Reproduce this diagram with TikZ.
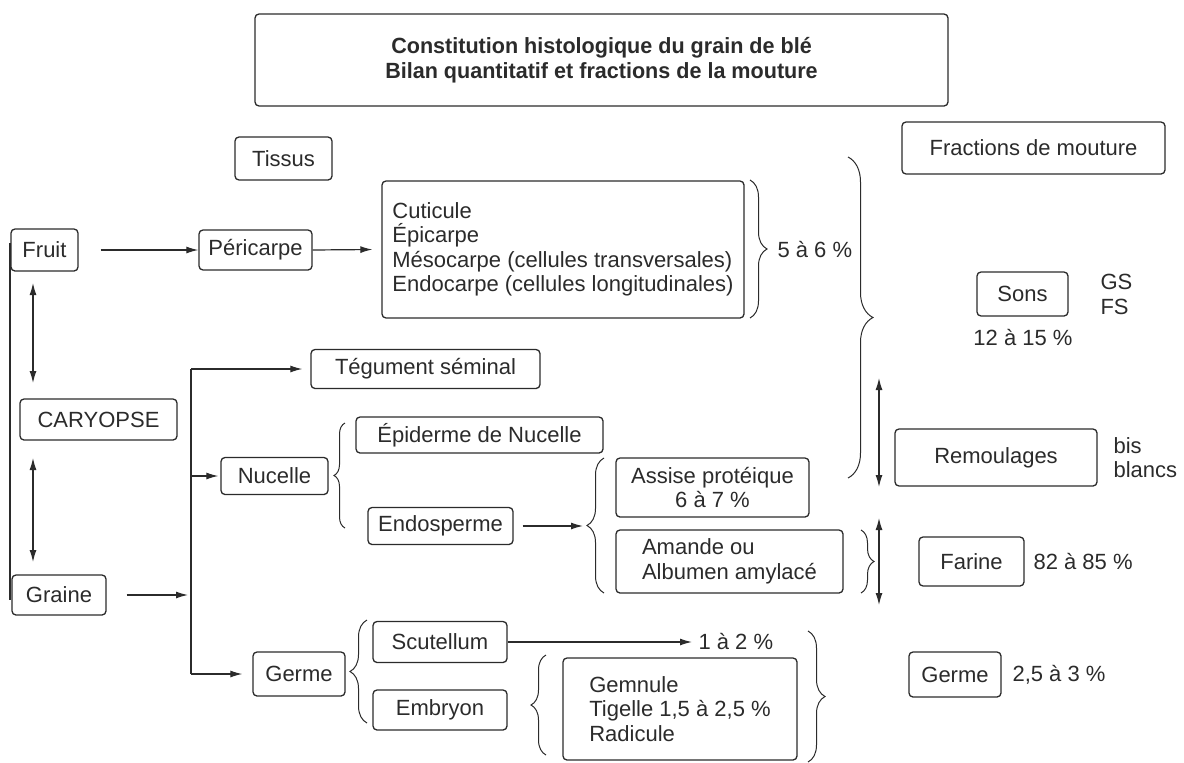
\documentclass[tikz,border=0pt]{standalone}
\usepackage{fontspec}
\setmainfont{Liberation Sans}
\newfontfamily\titrefont[FakeStretch=0.98]{Liberation Sans}
\usetikzlibrary{arrows.meta}
\usetikzlibrary{decorations.pathreplacing}
\definecolor{encre}{HTML}{2B2B2B}

\begin{document}
\begin{tikzpicture}[x=1pt,y=-1pt,
    every node/.style={text=encre,font=\fontsize{22}{24.5}\selectfont},
    boite/.style={draw=encre,line width=1.3pt,rounded corners=4pt,inner sep=0pt,align=center},
    fleche/.style={draw=encre,line width=1.2pt,-{Latex[length=12pt,width=7pt]}},
    dfleche/.style={draw=encre,line width=1.2pt,{Latex[length=12pt,width=7pt]}-{Latex[length=12pt,width=7pt]}},
    acc/.style={draw=encre,line width=1pt,decorate,decoration={brace,amplitude=#1}}]
        \useasboundingbox (0,0) rectangle (1184,763);

        % titre et en-tetes
        \node[boite,minimum width=693pt,minimum height=92pt,
            font=\titrefont\bfseries\fontsize{22}{25}\selectfont] (titre) at (601.5,60)
            {Constitution histologique du grain de blé\\Bilan quantitatif et fractions de la mouture};
        \node[boite,minimum width=97pt,minimum height=43pt] (tissus) at (283.5,158.5) {Tissus};
        \node[boite,minimum width=263pt,minimum height=52pt] (fract) at (1033.5,148) {Fractions de mouture};

        % colonne de gauche
        \node[boite,minimum width=67pt,minimum height=42pt] (fruit) at (44.5,250) {Fruit};
        \node[boite,minimum width=157pt,minimum height=41pt] (caryo) at (98.5,419.5) {CARYOPSE};
        \node[boite,minimum width=94pt,minimum height=40pt] (graine) at (59,595) {Graine};
        \coordinate (g1) at (10,243);
        \coordinate (g2) at (10,600);
        \draw[encre,line width=2.5pt] (g1) -- (g2);
        \coordinate (d1) at (33,283);
        \coordinate (d2) at (33,383);
        \coordinate (d3) at (33,458);
        \coordinate (d4) at (33,562);
        \draw[dfleche] (d1) -- (d2);
        \draw[dfleche] (d3) -- (d4);

        % tissus
        \node[boite,minimum width=113pt,minimum height=40pt] (peri) at (255.5,250) {Péricarpe};
        \node[boite,minimum width=362pt,minimum height=137pt,align=left] (cuti) at (563,249.5)
            {Cuticule\\Épicarpe\\Mésocarpe (cellules transversales)\\Endocarpe (cellules longitudinales)};
        \draw[fleche] ([xshift=22pt]fruit.east) -- (peri.west);
        \draw[fleche] (peri.east) -- ([xshift=-9pt]cuti.west);
        \draw[acc=17pt] (750,180) -- (750,318);
        \node[anchor=west] (p56) at (774,250) {5 à 6 \%};

        \node[boite,minimum width=229pt,minimum height=39pt] (tegu) at (425.5,369) {Tégument séminal};
        \node[boite,minimum width=107pt,minimum height=37pt] (nuc) at (274.5,476) {Nucelle};
        \node[boite,minimum width=247pt,minimum height=36pt] (epid) at (479.5,435) {Épiderme de Nucelle};
        \node[boite,minimum width=145pt,minimum height=37pt] (endo) at (440.5,526) {Endosperme};
        \node[boite,minimum width=193pt,minimum height=59pt] (assise) at (712.5,487.5) {Assise protéique\\6 à 7 \%};
        \node[boite,minimum width=227pt,minimum height=63pt,align=left] (amande) at (729.5,561.5)
            {Amande ou\\Albumen amylacé};
        \node[boite,minimum width=92pt,minimum height=44pt] (germe) at (299,674) {Germe};
        \node[boite,minimum width=134pt,minimum height=41pt] (scut) at (440,642) {Scutellum};
        \node[boite,minimum width=134pt,minimum height=40pt] (embr) at (440,710) {Embryon};
        \node[boite,minimum width=234pt,minimum height=102pt,align=left] (gemn) at (680,709)
            {Gemnule\\Tigelle 1,5 à 2,5 \%\\Radicule};
        \node[anchor=west] (p12) at (695,642) {1 à 2 \%};

        % embranchement de la graine
        \coordinate (haut) at (191,369);
        \coordinate (bas) at (191,674);
        \draw[encre,line width=1.2pt] (haut) -- (bas);
        \draw[fleche,shorten >=3pt] ([xshift=20pt]graine.east) -- (haut |- graine);
        \draw[fleche] (haut) -- ([xshift=-8pt]tegu.west);
        \draw[fleche] (haut |- nuc) -- ([xshift=-2pt]nuc.west);
        \draw[fleche] (bas) -- ([xshift=-10pt]germe.west);
        \coordinate (e1) at (583,526);
        \draw[fleche] ([xshift=9pt]endo.east) -- (e1);
        \draw[fleche] (scut.east) -- ([xshift=-3pt]p12.west);

        % accolades
        \draw[acc=11pt] (345,528) -- (345,423);
        \draw[acc=17pt] (604,593) -- (604,458);
        \draw[acc=13pt] (861,530) -- (861,593);
        \draw[acc=17pt] (367,723) -- (367,620);
        \draw[acc=15pt] (546,755) -- (546,655);
        \draw[acc=17pt] (808,631) -- (808,762);
        \draw[acc=25pt] (848,157) -- (848,478);

        % fractions de mouture
        \node[boite,minimum width=91pt,minimum height=44pt] (sons) at (1022.5,294) {Sons};
        \node[anchor=west,align=left] (gsfs) at (1097,294.5) {GS\\FS};
        \node (p1215) at (1023,338) {12 à 15 \%};
        \node[boite,minimum width=202pt,minimum height=57pt] (remoul) at (996,457.5) {Remoulages};
        \node[anchor=west,align=left] (bisbl) at (1110,457.5) {bis\\blancs};
        \node[boite,minimum width=105pt,minimum height=49pt] (farine) at (971.5,561.5) {Farine};
        \node[anchor=west] (p8285) at (1030,561.5) {82 à 85 \%};
        \node[boite,minimum width=92pt,minimum height=45pt] (germeR) at (955,674.5) {Germe};
        \node[anchor=west] (p253) at (1009,674.5) {2,5 à 3 \%};
        \coordinate (f1) at (879,378);
        \coordinate (f2) at (879,487);
        \coordinate (f3) at (879,518);
        \coordinate (f4) at (879,605);
        \draw[dfleche] (f1) -- (f2);
        \draw[dfleche] (f3) -- (f4);
    \end{tikzpicture}
\end{document}
